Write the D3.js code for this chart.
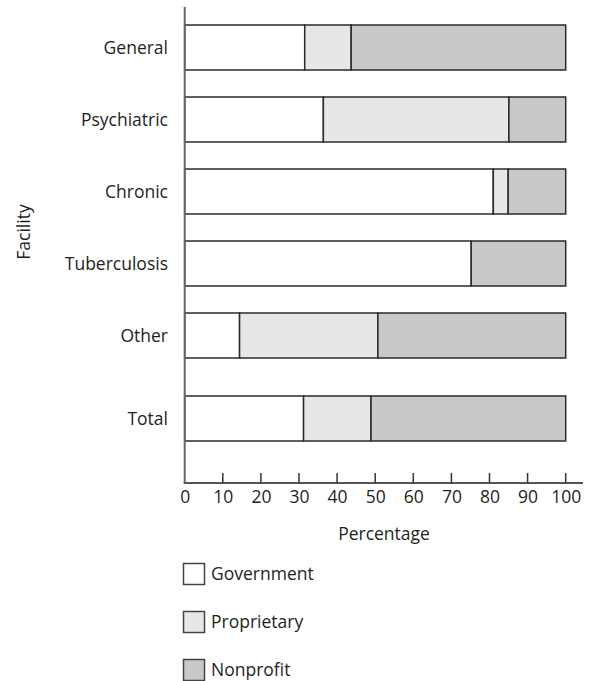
<!DOCTYPE html>
<html><head><meta charset="utf-8">
<script src="https://cdn.jsdelivr.net/npm/d3@7"></script>
<style>body{margin:0;background:#fff}svg text{font-family:"Open Sans",sans-serif;fill:#231f20}</style>
</head><body><svg id="c" width="598" height="681"></svg>
<script>
const categories = ["General","Psychiatric","Chronic","Tuberculosis","Other","Total"];
const government = [31.5, 36.4, 81.0, 75.2, 14.4, 31.2];
const proprietary = [12.2, 48.7, 3.9, 0, 36.3, 17.7];
const nonprofit = [56.3, 14.9, 15.1, 24.8, 49.3, 51.1];
const seriesNames = ["Government","Proprietary","Nonprofit"];
const seriesColors = ["#ffffff","#e6e7e8","#c7c8ca"];
const xTicks = [0,10,20,30,40,50,60,70,80,90,100];

const FS = 17.5;
const svg = d3.select("#c");
const left = 184.7, right = 565.7, axisTop = 7, axisBottom = 483;
const x = d3.scaleLinear().domain([0,100]).range([left,right]);
// facility rows on a band scale; the summary row "Total" sits one extra gap lower
const y = d3.scaleBand().domain(categories).range([25-27*0.5, 25-13.5+72*6]).paddingInner(0.375).paddingOuter(0.1875);
const summaryGap = 11;
const yPos = c => y(c) + (c === "Total" ? summaryGap : 0);

const stackData = categories.map((c,i)=>({cat:c, Government:government[i], Proprietary:proprietary[i], Nonprofit:nonprofit[i]}));
const stacked = d3.stack().keys(seriesNames)(stackData);

const g = svg.append("g");
stacked.forEach((layer, si) => {
  g.selectAll(null).data(layer.filter(d => d[1]-d[0] > 0)).join("rect")
    .attr("x", d => x(d[0]))
    .attr("y", d => yPos(d.data.cat))
    .attr("width", d => x(d[1]) - x(d[0]))
    .attr("height", y.bandwidth())
    .attr("fill", seriesColors[si])
    .attr("stroke", "#2b2b2b")
    .attr("stroke-width", 1.5);
});

// y axis line
svg.append("line").attr("x1",left).attr("x2",left).attr("y1",axisTop).attr("y2",axisBottom)
  .attr("stroke","#666").attr("stroke-width",2);

// category labels
svg.selectAll(".cl").data(categories).join("text")
  .attr("x", 168).attr("y", c => yPos(c) + y.bandwidth()/2)
  .attr("dy","0.35em").attr("text-anchor","end").attr("font-size",FS).text(c=>c);

// x axis
const xAxis = d3.axisBottom(x).tickValues(xTicks).tickSize(0).tickPadding(8).tickFormat(d3.format("d"));
const xa = svg.append("g").attr("transform",`translate(0,${axisBottom})`).call(xAxis);
xa.select(".domain").remove();
xa.selectAll("text").attr("font-size",FS).attr("font-family","'Open Sans',sans-serif").attr("fill","#231f20");
svg.append("line").attr("x1",left-1).attr("x2",583).attr("y1",axisBottom).attr("y2",axisBottom)
  .attr("stroke","#555").attr("stroke-width",2);
svg.selectAll(".xt").data(xTicks.filter(t=>t>0)).join("line")
  .attr("x1",d=>x(d)).attr("x2",d=>x(d)).attr("y1",axisBottom).attr("y2",axisBottom-10)
  .attr("stroke","#333").attr("stroke-width",1.5);

// axis titles
svg.append("text").attr("x",384).attr("y",540).attr("text-anchor","middle").attr("font-size",FS).text("Percentage");
svg.append("text").attr("transform","translate(30,232) rotate(-90)").attr("text-anchor","middle").attr("font-size",FS).text("Facility");

// legend
const lg = svg.selectAll(".lg").data(seriesNames).join("g")
  .attr("transform",(d,i)=>`translate(183,${563 + i*48})`);
lg.append("rect").attr("x",0.5).attr("y",0.5).attr("width",21).attr("height",21)
  .attr("fill",(d,i)=>seriesColors[i]).attr("stroke","#444").attr("stroke-width",1.5);
lg.append("text").attr("x",28).attr("y",11).attr("dy","0.35em").attr("font-size",FS).text(d=>d);
</script></body></html>
